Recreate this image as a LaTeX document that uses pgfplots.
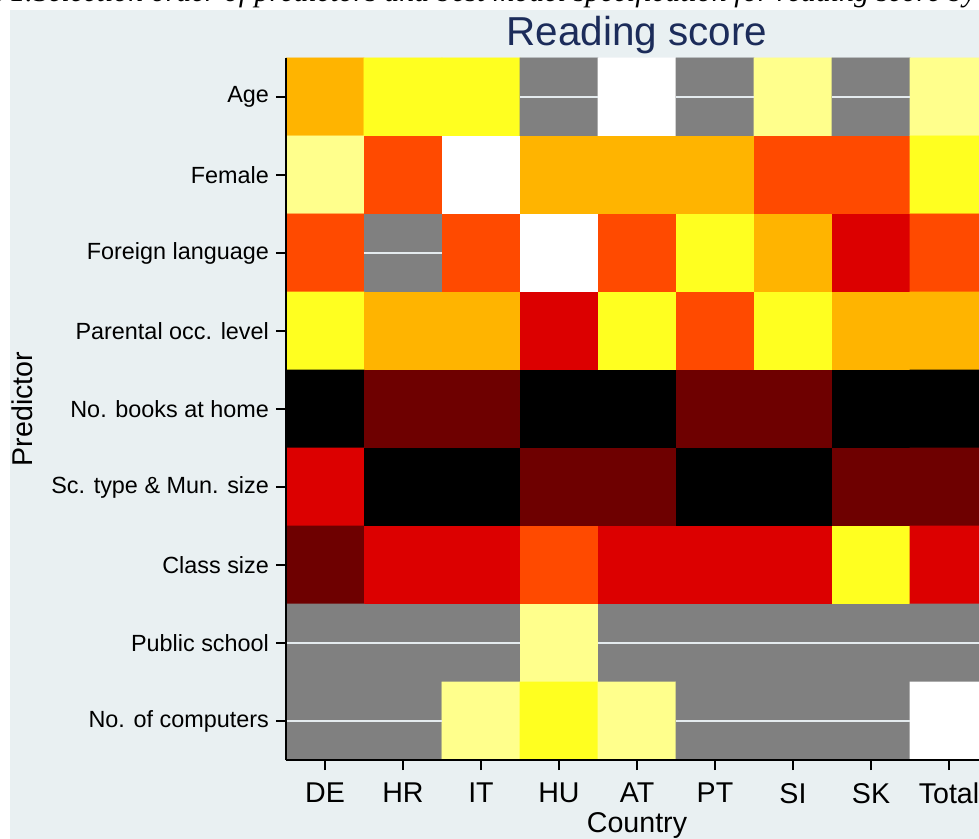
\documentclass[border=0pt]{standalone}
\usepackage{pgfplots}
\usepackage{pgfplotstable}
\pgfplotsset{compat=1.18}
\usepackage{fontspec}
\setmainfont{Liberation Sans}
\newfontfamily\capfont{Liberation Serif}
\definecolor{panel}{RGB}{233,240,242}
\definecolor{titlec}{RGB}{28,44,90}
\definecolor{gline}{RGB}{228,235,238}

% c: selection order (1 = first selected ... 8), 0 = not selected
\pgfplotstableread{
x y c
0 0 5
1 0 6
2 0 6
3 0 0
4 0 8
5 0 0
6 0 7
7 0 0
8 0 7
0 1 7
1 1 4
2 1 8
3 1 5
4 1 5
5 1 5
6 1 4
7 1 4
8 1 6
0 2 4
1 2 0
2 2 4
3 2 8
4 2 4
5 2 6
6 2 5
7 2 3
8 2 4
0 3 6
1 3 5
2 3 5
3 3 3
4 3 6
5 3 4
6 3 6
7 3 5
8 3 5
0 4 1
1 4 2
2 4 2
3 4 1
4 4 1
5 4 2
6 4 2
7 4 1
8 4 1
0 5 3
1 5 1
2 5 1
3 5 2
4 5 2
5 5 1
6 5 1
7 5 2
8 5 2
0 6 2
1 6 3
2 6 3
3 6 4
4 6 3
5 6 3
6 6 3
7 6 6
8 6 3
0 7 0
1 7 0
2 7 0
3 7 7
4 7 0
5 7 0
6 7 0
7 7 0
8 7 0
0 8 0
1 8 0
2 8 7
3 8 6
4 8 7
5 8 0
6 8 0
7 8 0
8 8 8
}\heat

\begin{document}
\begin{tikzpicture}
% caption (cut at top of the picture)
\node[anchor=base east, inner sep=0pt, font=\capfont\itshape\fontsize{15}{18}\selectfont] at (-140.5pt,379pt) {Table};
\node[anchor=base west, inner sep=0pt, font=\capfont\itshape\fontsize{15}{18}\selectfont] at (-138pt,379pt) {1.};
\node[anchor=base west, inner sep=0pt, font=\capfont\itshape\fontsize{15}{18}\selectfont] at (-126.5pt,379pt) {Selection order of predictors and best model specification for reading score by country};
% background panel
\fill[panel] (-138pt,-45pt) rectangle (360pt,375pt);
\begin{axis}[
  at={(0pt,0pt)}, anchor=south west,
  scale only axis, width=351pt, height=351pt,
  xmin=-0.5, xmax=8.5, ymin=-0.5, ymax=8.5,
  y dir=reverse,
  enlargelimits=false,
  axis on top,
  axis x line*=bottom, axis y line*=left,
  axis line style={draw=black, line width=0.75pt, -},
  tick align=outside,
  major tick length=5pt,
  tick style={draw=black, line width=0.6pt},
  xtick={0,...,8}, ytick={0,...,8},
  xticklabels={DE,HR,IT,HU,AT,PT,SI,SK,Total},
  yticklabels={Age, Female, Foreign language, Parental occ. level, No. books at home, Sc. type \& Mun. size, Class size, Public school, No. of computers},
  x tick label style={font=\fontsize{14.3}{16}\selectfont, yshift=-3pt},
  y tick label style={font=\fontsize{11.7}{14}\selectfont},
  xlabel={Country}, ylabel={Predictor},
  xlabel style={font=\fontsize{14.3}{16}\selectfont, at={(axis description cs:0.5,-0.1026)}, anchor=base},
  ylabel style={font=\fontsize{14.3}{16}\selectfont, at={(axis description cs:-0.3754,0.5)}, anchor=center, rotate=0},
  every axis title shift=0pt,
  title={Reading score},
  title style={font=\fontsize{20.2}{24}\selectfont, color=titlec, at={(axis description cs:0.5,1.0185)}, anchor=base},
  colormap={sel}{rgb255=(128,128,128) rgb255=(0,0,0) rgb255=(110,0,0) rgb255=(220,0,0) rgb255=(255,74,0) rgb255=(255,180,0) rgb255=(255,255,32) rgb255=(255,255,140) rgb255=(255,255,255)},
  colormap access=direct,
]
\addplot[matrix plot*, mesh/cols=9, point meta=explicit] table[meta=c] {\heat};
\addplot[draw=gline, line width=1pt, unbounded coords=jump] coordinates {
  (2.5,0) (3.5,0) (nan,nan)
  (4.5,0) (5.5,0) (nan,nan)
  (6.5,0) (7.5,0) (nan,nan)
  (0.5,2) (1.5,2) (nan,nan)
  (-0.5,7) (2.5,7) (nan,nan)
  (3.5,7) (8.5,7) (nan,nan)
  (-0.5,8) (1.5,8) (nan,nan)
  (4.5,8) (7.5,8)
};
\end{axis}
\pgfresetboundingbox
\path[use as bounding box] (-143pt,-39.5pt) rectangle (346.5pt,380pt);
\end{tikzpicture}
\end{document}
